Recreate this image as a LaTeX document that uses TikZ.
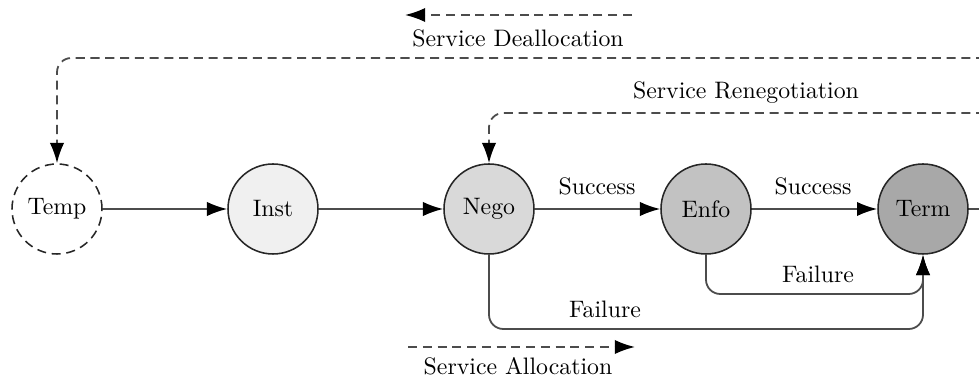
\documentclass[tikz,border=0pt]{standalone}
\usetikzlibrary{arrows.meta}
\begin{document}
\begin{tikzpicture}[x=0.42pt,y=-0.42pt,
  line width=0.75pt,
  state/.style={circle,draw=black!85,line width=0.65pt,minimum size=37.8pt,inner sep=0pt,font=\normalsize},
  flow/.style={draw=black!70,-{Latex[length=8.5pt,width=6pt,black]}},
  dashflow/.style={flow,dash pattern=on 3.8pt off 2.4pt},
  lbl/.style={font=\normalsize,inner sep=0pt}]
  \clip (0,0) rectangle (979,380);

  % lifecycle states
  \node[state,dashed,dash pattern=on 3.8pt off 2.4pt] (temp) at (57,209) {Temp};
  \node[state,fill=black!6]  (inst) at (273,209) {Inst};
  \node[state,fill=black!15] (nego) at (489,209) {Nego};
  \node[state,fill=black!24] (enfo) at (706,209) {Enfo};
  \node[state,fill=black!34] (term) at (923,209) {Term};

  % loose ends beyond the right border
  \coordinate (out)   at (1000,209);
  \coordinate (dealE) at (1000,58);
  \coordinate (reneE) at (1000,113);
  \coordinate (lvlA)  at (0,294);
  \coordinate (lvlB)  at (0,329);

  % main flow
  \draw[flow] (temp) -- (inst);
  \draw[flow] (inst) -- (nego);
  \draw[flow] (nego) -- (enfo);
  \draw[flow] (enfo) -- (term);
  \draw[draw=black!70] (term) -- (out);
  \node[lbl] (succ1) at (597,186) {Success};
  \node[lbl] (succ2) at (813,186) {Success};

  % failure paths
  \draw[flow,rounded corners=6pt] (enfo.south) |- (term.south |- lvlA) -- (term.south);
  \draw[flow,rounded corners=6pt] (nego.south) |- (term.south |- lvlB) -- (term.south);
  \node[lbl] (fail1) at (818,274) {Failure};
  \node[lbl] (fail2) at (605,309) {Failure};

  % dashed feedback paths
  \draw[dashflow,rounded corners=6pt] (dealE) -| (temp.north);
  \draw[dashflow,rounded corners=6pt] (reneE) -| (nego.north);
  \node[lbl] (rene) at (746,93) {Service Renegotiation};

  % legend arrows
  \coordinate (dA) at (632,15);
  \coordinate (dB) at (405,15);
  \draw[dashflow] (dA) -- (dB);
  \node[lbl] (deal) at (518,38) {Service Deallocation};
  \coordinate (aA) at (408,347);
  \coordinate (aB) at (635,347);
  \draw[dashflow] (aA) -- (aB);
  \node[lbl] (alloc) at (518,366) {Service Allocation};
\end{tikzpicture}
\end{document}
